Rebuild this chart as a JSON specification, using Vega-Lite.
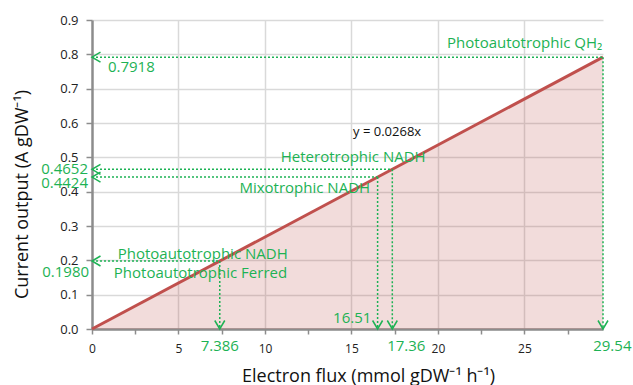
{
  "$schema": "https://vega.github.io/schema/vega-lite/v6.json",
  "width": 511,
  "height": 309,
  "autosize": {"type": "none"},
  "padding": {"left": 92, "top": 20, "right": 30, "bottom": 56},
  "background": "white",
  "config": {
    "view": {"stroke": null},
    "font": "Open Sans",
    "axis": {
      "domainColor": "#8c8c8c",
      "domainWidth": 2.5,
      "tickColor": "#8c8c8c",
      "tickWidth": 1.5,
      "tickSize": 5,
      "gridColor": "#d9d9d9",
      "gridWidth": 1.5,
      "labelColor": "#222222",
      "titleColor": "#111111",
      "labelFont": "Open Sans",
      "titleFont": "Open Sans",
      "titleFontWeight": "normal",
      "titleFontSize": 18,
      "labelOverlap": false,
      "labelFlush": false
    }
  },
  "datasets": {
    "line": [{"x": 0, "y": 0}, {"x": 29.54, "y": 0.7917}],
    "markers": [
      {"name": "Photoautotrophic QH2", "x": 29.54, "y": 0.7918, "zero": 0},
      {"name": "Heterotrophic NADH", "x": 17.36, "y": 0.4652, "zero": 0},
      {"name": "Mixotrophic NADH", "x": 16.51, "y": 0.4424, "zero": 0},
      {"name": "Photoautotrophic NADH", "x": 7.386, "y": 0.198, "zero": 0}
    ]
  },
  "layer": [
    {
      "data": {"name": "line"},
      "mark": {"type": "area", "color": "#c0504d", "opacity": 0.2},
      "encoding": {
        "x": {
          "field": "x", "type": "quantitative",
          "scale": {"domain": [0, 29.54], "nice": false, "zero": true},
          "axis": {
            "values": [0, 2.5, 5, 7.5, 10, 12.5, 15, 17.5, 20, 22.5, 25, 27.5],
            "tickCount": 14,
            "labelExpr": "datum.value % 5 === 0 ? datum.label : ''",
            "gridOpacity": {"condition": {"test": "datum.value % 5 === 0 && datum.value > 0", "value": 1}, "value": 0},
            "labelFontSize": 12,
            "labelPadding": 9,
            "title": "Electron flux (mmol gDW⁻¹ h⁻¹)",
            "titleX": 276,
            "titleY": 52,
            "titleBaseline": "alphabetic",
            "titleAlign": "center"
          }
        },
        "y": {
          "field": "y", "type": "quantitative",
          "scale": {"domain": [0, 0.9], "nice": false},
          "axis": {
            "values": [0, 0.1, 0.2, 0.3, 0.4, 0.5, 0.6, 0.7, 0.8, 0.9],
            "tickCount": 12,
            "format": ".1f",
            "labelFontSize": 13,
            "labelPadding": 8,
            "tickSize": 6,
            "title": "Current output (A gDW⁻¹)",
            "titleX": -65,
            "titleY": 174,
            "titleBaseline": "alphabetic",
            "titleAlign": "center",
            "titleAngle": -90
          }
        }
      }
    },
    {
      "data": {"name": "line"},
      "mark": {"type": "line", "color": "#c0504d", "strokeWidth": 3},
      "encoding": {
        "x": {"field": "x", "type": "quantitative"},
        "y": {"field": "y", "type": "quantitative"}
      }
    },
    {
      "data": {"name": "markers"},
      "mark": {"type": "rule", "color": "#1db254", "strokeWidth": 1.5, "strokeDash": [2, 2]},
      "encoding": {
        "x": {"field": "zero", "type": "quantitative"},
        "x2": {"field": "x"},
        "y": {"field": "y", "type": "quantitative"}
      }
    },
    {
      "data": {"name": "markers"},
      "mark": {"type": "rule", "color": "#1db254", "strokeWidth": 1.5, "strokeDash": [2, 2]},
      "encoding": {
        "x": {"field": "x", "type": "quantitative"},
        "y": {"field": "y", "type": "quantitative"},
        "y2": {"field": "zero"}
      }
    },
    {
      "data": {"name": "markers"},
      "mark": {"type": "point", "shape": "M1.7,-1L0,0L1.7,1", "filled": false, "stroke": "#1db254", "strokeWidth": 1.5, "size": 100, "opacity": 1},
      "encoding": {
        "x": {"field": "zero", "type": "quantitative"},
        "y": {"field": "y", "type": "quantitative"}
      }
    },
    {
      "data": {"name": "markers"},
      "mark": {"type": "point", "shape": "M-1,-1.7L0,0L1,-1.7", "filled": false, "stroke": "#1db254", "strokeWidth": 1.5, "size": 100, "opacity": 1},
      "encoding": {
        "x": {"field": "x", "type": "quantitative"},
        "y": {"field": "zero", "type": "quantitative"}
      }
    },
    {
      "data": {"values": [
        {"label": "Heterotrophic NADH", "x": 15.1, "y": 0.501},
        {"label": "Mixotrophic NADH", "x": 12.3, "y": 0.41},
        {"label": "Photoautotrophic NADH", "x": 6.4, "y": 0.218},
        {"label": "Photoautotrophic Ferred", "x": 6.27, "y": 0.164},
        {"label": "7.386", "x": 7.386, "y": -0.049},
        {"label": "17.36", "x": 18.17, "y": -0.049},
        {"label": "29.54", "x": 30.08, "y": -0.049}
      ]},
      "mark": {"type": "text", "align": "center", "baseline": "middle", "color": "#1db254", "fontSize": 15, "font": "Open Sans"},
      "encoding": {
        "x": {"field": "x", "type": "quantitative"},
        "y": {"field": "y", "type": "quantitative"},
        "text": {"field": "label"}
      }
    },
    {
      "data": {"values": [
        {"label": "Photoautotrophic QH₂", "x": 29.5, "y": 0.832},
        {"label": "0.4652", "x": -0.23, "y": 0.466},
        {"label": "0.4424", "x": -0.23, "y": 0.425},
        {"label": "0.1980", "x": -0.17, "y": 0.166},
        {"label": "16.51", "x": 16.15, "y": 0.032}
      ]},
      "mark": {"type": "text", "align": "right", "baseline": "middle", "color": "#1db254", "fontSize": 15, "font": "Open Sans"},
      "encoding": {
        "x": {"field": "x", "type": "quantitative"},
        "y": {"field": "y", "type": "quantitative"},
        "text": {"field": "label"}
      }
    },
    {
      "data": {"values": [
        {"label": "0.7918", "x": 0.92, "y": 0.763}
      ]},
      "mark": {"type": "text", "align": "left", "baseline": "middle", "color": "#1db254", "fontSize": 15, "font": "Open Sans"},
      "encoding": {
        "x": {"field": "x", "type": "quantitative"},
        "y": {"field": "y", "type": "quantitative"},
        "text": {"field": "label"}
      }
    },
    {
      "data": {"values": [
        {"label": "y = 0.0268x", "x": 17.06, "y": 0.575}
      ]},
      "mark": {"type": "text", "align": "center", "baseline": "middle", "color": "#111111", "fontSize": 13, "font": "Open Sans"},
      "encoding": {
        "x": {"field": "x", "type": "quantitative"},
        "y": {"field": "y", "type": "quantitative"},
        "text": {"field": "label"}
      }
    }
  ]
}
